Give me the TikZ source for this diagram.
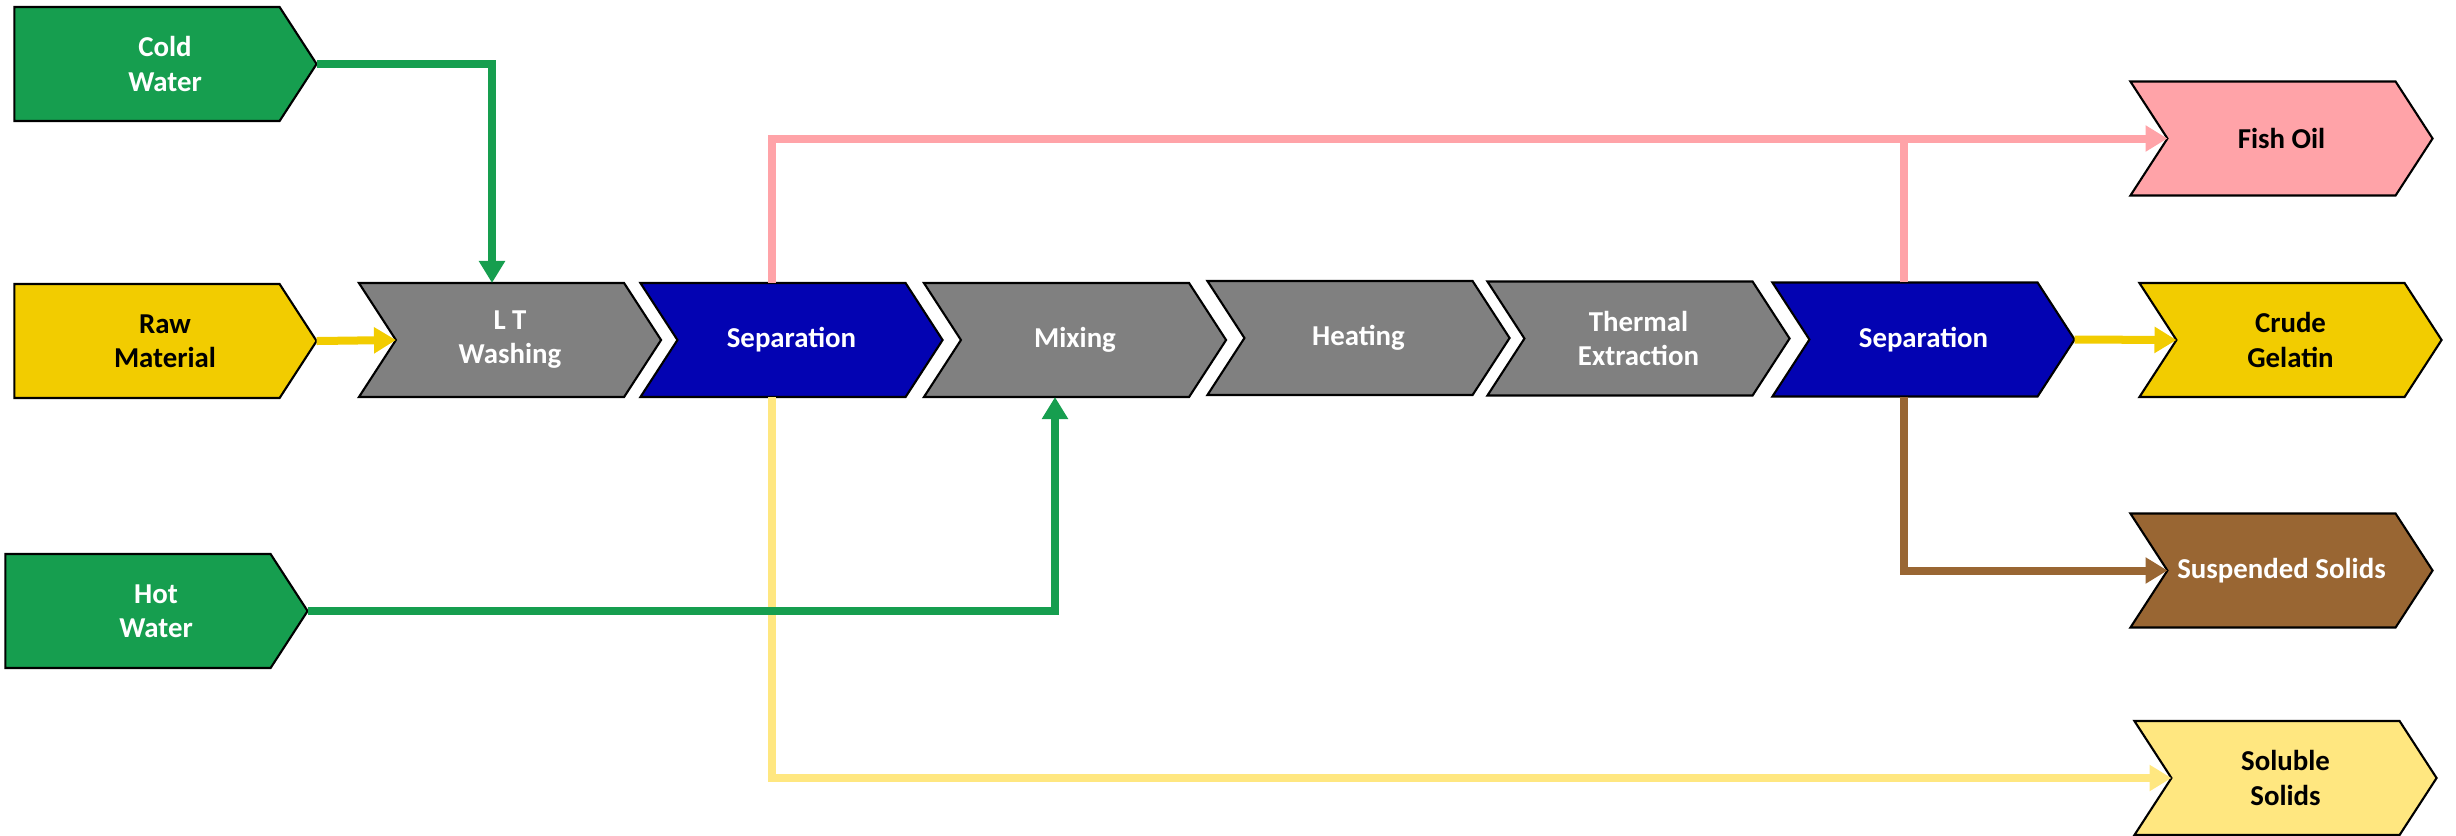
\documentclass[tikz,border=0pt]{standalone}
\usepackage{fontspec}
\setmainfont{Carlito}
\usetikzlibrary{shapes.symbols,arrows.meta,calc}
\definecolor{cgreen}{RGB}{22,158,79}
\definecolor{cgold}{RGB}{242,204,0}
\definecolor{cgrey}{RGB}{128,128,128}
\definecolor{cblue}{RGB}{3,3,178}
\definecolor{cpink}{RGB}{255,163,168}
\definecolor{cbrown}{RGB}{153,102,51}
\definecolor{clyel}{RGB}{255,231,128}
\newcommand{\inshift}{\hspace*{0.36cm}}
\tikzset{
  box/.style={shape=signal, signal to=east, signal pointer angle=114,
    minimum width=3.02cm, minimum height=1.14cm, inner sep=0pt, outer sep=0pt,
    draw=black, line width=0.6pt, align=center,
    font=\bfseries\fontsize{8.2}{9.7}\selectfont},
  chev/.style={box, signal from=west},
  wtxt/.style={text=white},
  btxt/.style={text=black},
  flow/.style={line width=0.08cm, -{Triangle[length=0.22cm,width=0.25cm]}},
  plain/.style={line width=0.08cm},
}
\begin{document}
\begin{tikzpicture}[x=0.01cm,y=-0.01cm]
\useasboundingbox (0,0) rectangle (2456,835);
% inputs
\node[box, fill=cgreen, wtxt] (cold) at (147,64) {\inshift Cold\\\inshift Water};
\node[box, fill=cgold, btxt] (raw) at (147,341) {\inshift Raw\\\inshift Material};
\node[box, fill=cgreen, wtxt] (hot) at (138,611) {\inshift Hot\\\inshift Water};
% process chain
\node[chev, fill=cgrey, wtxt] (lt) at (510,340) {L T\\Washing};
\node[chev, fill=cblue, wtxt] (sepa) at (791.5,340) {Separation};
\node[chev, fill=cgrey, wtxt] (mix) at (1075,340) {Mixing};
\node[chev, fill=cgrey, wtxt] (heat) at (1358.5,338) {Heating};
\node[chev, fill=cgrey, wtxt] (therm) at (1638.5,338.5) {Thermal\\Extraction};
\node[chev, fill=cblue, wtxt] (sepb) at (1923.5,339.5) {Separation};
% outputs
\node[chev, fill=cpink, btxt] (fish) at (2281.5,138.5) {Fish Oil};
\node[chev, fill=cgold, btxt] (crude) at (2290.5,340) {Crude\\Gelatin};
\node[chev, fill=cbrown, wtxt] (susp) at (2281.5,570.5) {Suspended Solids};
\node[chev, fill=clyel, btxt] (sol) at (2285.5,778) {Soluble\\Solids};
% anchor points
\coordinate (ltin) at ($(lt.center)+(-114,0)$);
\coordinate (ltup) at ($(lt.north)+(-18,0)$);
\coordinate (mixdn) at ($(mix.south)+(-20,0)$);
\coordinate (sepatop) at ($(sepa.north)+(-19.5,0)$);
\coordinate (sepabot) at ($(sepa.south)+(-19.5,0)$);
\coordinate (sepbtop) at ($(sepb.north)+(-19.5,0)$);
\coordinate (sepbbot) at ($(sepb.south)+(-19.5,0)$);
\coordinate (fishin) at ($(fish.center)+(-114,0)$);
\coordinate (crudein) at ($(crude.center)+(-114,0)$);
\coordinate (suspin) at ($(susp.center)+(-114,0)$);
\coordinate (solin) at ($(sol.center)+(-114,0)$);
\coordinate (pinkj) at (sepbtop |- fishin);
% connectors
\draw[flow, cgold] (raw.east) -- (ltin);
\draw[flow, cgreen] (cold.east) -| (ltup);
\draw[flow, cpink] (sepatop) |- (fishin);
\draw[plain, cpink] (sepbtop) -- (pinkj);
\draw[flow, clyel] (sepabot) |- (solin);
\draw[flow, cgreen] (hot.east) -| (mixdn);
\draw[flow, cgold] (sepb.east) -- (crudein);
\draw[flow, cbrown] (sepbbot) |- (suspin);
\end{tikzpicture}
\end{document}
